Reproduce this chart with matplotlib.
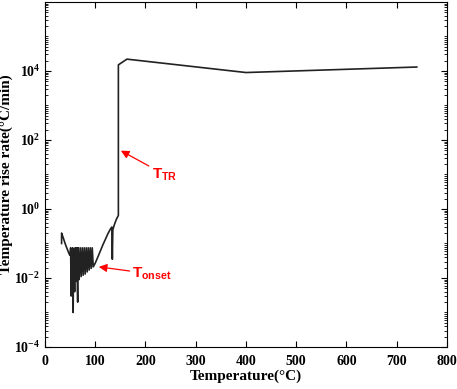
import numpy as np
import matplotlib
matplotlib.use("Agg")
import matplotlib.pyplot as plt
from matplotlib.ticker import LogLocator, NullFormatter, FixedLocator

plt.rcParams['font.family'] = 'Liberation Serif'
plt.rcParams['font.weight'] = 'bold'
plt.rcParams['mathtext.fontset'] = 'custom'
plt.rcParams['mathtext.rm'] = 'Liberation Serif:bold'
plt.rcParams['mathtext.sf'] = 'Liberation Sans'

# temperature (°C) and temperature rise rate (°C/min)
temp = [33, 33, 36, 40, 44, 48, 50,
        51, 52, 53, 54, 55, 56, 57, 59, 60, 62, 63, 65, 66, 68, 70, 72,
        74, 76, 78, 80, 82, 84, 86, 88, 90, 92, 94, 96,
        100, 105, 110, 115, 120, 125, 130, 133, 134, 135, 138, 142, 146,
        146, 163, 400, 740]
rate = [0.1, 0.2, 0.15, 0.1, 0.07, 0.05, 0.045,
        0.075, 0.003, 0.07, 0.006, 0.075, 0.001, 0.07, 0.004, 0.075, 0.008,
        0.075, 0.002, 0.075, 0.009, 0.075, 0.011,
        0.075, 0.012, 0.075, 0.013, 0.075, 0.015, 0.075, 0.017, 0.075, 0.019,
        0.075, 0.021,
        0.027, 0.04, 0.06, 0.09, 0.13, 0.19, 0.26, 0.3, 0.035, 0.25, 0.35,
        0.5, 0.65,
        1.5e4, 2.2e4, 9e3, 1.3e4]
yticks = [1e-4, 1e-2, 1e0, 1e2, 1e4]

fig = plt.figure(figsize=(4.57, 3.89), dpi=100)
ax = fig.add_axes([0.0985, 0.108, 0.8795, 0.887])
ax.semilogy(temp, rate, color='#222222', lw=1.2)

ax.set_xlim(0, 800)
ax.set_ylim(1e-4, 1e6)
ax.set_xticks(range(0, 801, 100))
ax.yaxis.set_major_locator(FixedLocator(yticks))
ax.yaxis.set_minor_locator(LogLocator(base=10, subs=np.arange(1, 10), numticks=20))
ax.yaxis.set_minor_formatter(NullFormatter())
ax.tick_params(which='both', direction='in', top=True, right=True, labelsize=10)
ax.tick_params(axis='x', pad=6)
ax.tick_params(which='major', length=4)
ax.tick_params(which='minor', length=2)
for lab in ax.get_xticklabels() + ax.get_yticklabels():
    lab.set_fontweight('bold')

ax.set_xlabel('Temperature(°C)', fontsize=11, fontweight='bold', labelpad=1)
ax.set_ylabel('Temperature rise rate(°C/min)', fontsize=11, fontweight='bold', labelpad=1)

ax.annotate(r'$\mathsf{T_{TR}}$', xy=(151, 49), xytext=(212, 10),
            color='red', fontsize=11, va='center', ha='left',
            arrowprops=dict(arrowstyle='-|>', color='red', lw=0.9,
                            mutation_scale=12, shrinkA=0, shrinkB=0))
ax.annotate(r'$\mathsf{T_{onset}}$', xy=(107, 0.021), xytext=(174, 0.013),
            color='red', fontsize=11, va='center', ha='left',
            arrowprops=dict(arrowstyle='-|>', color='red', lw=0.9,
                            mutation_scale=12, shrinkA=0, shrinkB=0))

fig.savefig('out.png', dpi=100)
